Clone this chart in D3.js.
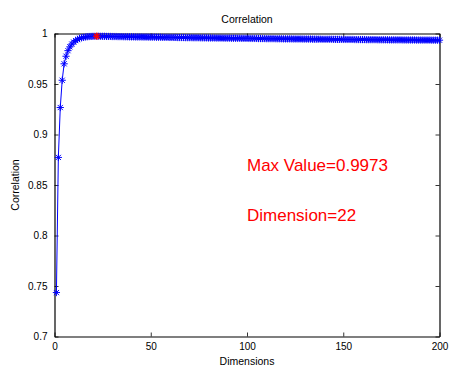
<!DOCTYPE html>
<html>
<head>
<meta charset="utf-8">
<script src="https://cdn.jsdelivr.net/npm/d3@7"></script>
<style>
  body { margin: 0; background: #fff; }
  svg { display: block; font-family: "Liberation Sans", Arial, sans-serif; }
</style>
</head>
<body>
<svg id="chart"></svg>
<script>
// correlation per number of dimensions (1..200)
const correlation = [
    0.7435, 0.8773, 0.9267, 0.9537, 0.9700, 0.9775, 0.9830, 0.9868, 0.9895, 0.9915,
    0.9930, 0.9942, 0.9951, 0.9957, 0.9962, 0.9965, 0.9968, 0.9970, 0.9971, 0.9972,
    0.9972, 0.9973,
    0.9973, 0.9972, 0.9972, 0.9972, 0.9971, 0.9971, 0.9971, 0.9970, 0.9970, 0.9970,
    0.9969, 0.9969, 0.9969, 0.9968, 0.9968, 0.9968, 0.9967, 0.9967,
    0.9967, 0.9966, 0.9966, 0.9966, 0.9966, 0.9965, 0.9965, 0.9965, 0.9964, 0.9964,
    0.9964, 0.9964, 0.9963, 0.9963, 0.9963, 0.9962, 0.9962, 0.9962, 0.9962, 0.9961,
    0.9961, 0.9961, 0.9961, 0.9960, 0.9960, 0.9960, 0.9960, 0.9959, 0.9959, 0.9959,
    0.9959, 0.9958, 0.9958, 0.9958, 0.9958, 0.9957, 0.9957, 0.9957, 0.9957, 0.9956,
    0.9956, 0.9956, 0.9956, 0.9955, 0.9955, 0.9955, 0.9955, 0.9954, 0.9954, 0.9954,
    0.9954, 0.9953, 0.9953, 0.9953, 0.9953, 0.9953, 0.9952, 0.9952, 0.9952, 0.9952,
    0.9951, 0.9951, 0.9951, 0.9951, 0.9951, 0.9950, 0.9950, 0.9950, 0.9950, 0.9949,
    0.9949, 0.9949, 0.9949, 0.9949, 0.9948, 0.9948, 0.9948, 0.9948, 0.9947, 0.9947,
    0.9947, 0.9947, 0.9947, 0.9946, 0.9946, 0.9946, 0.9946, 0.9946, 0.9945, 0.9945,
    0.9945, 0.9945, 0.9945, 0.9944, 0.9944, 0.9944, 0.9944, 0.9944, 0.9943, 0.9943,
    0.9943, 0.9943, 0.9943, 0.9943, 0.9942, 0.9942, 0.9942, 0.9942, 0.9942, 0.9941,
    0.9941, 0.9941, 0.9941, 0.9941, 0.9941, 0.9940, 0.9940, 0.9940, 0.9940, 0.9940,
    0.9940, 0.9939, 0.9939, 0.9939, 0.9939, 0.9939, 0.9939, 0.9938, 0.9938, 0.9938,
    0.9938, 0.9938, 0.9938, 0.9937, 0.9937, 0.9937, 0.9937, 0.9937, 0.9937, 0.9937,
    0.9936, 0.9936, 0.9936, 0.9936, 0.9936, 0.9936, 0.9936, 0.9935, 0.9935, 0.9935,
    0.9935, 0.9935, 0.9935, 0.9935, 0.9935, 0.9934, 0.9934, 0.9934, 0.9934, 0.9934
];
const xTicks = [0, 50, 100, 150, 200];
const yTicks = [0.7, 0.75, 0.8, 0.85, 0.9, 0.95, 1];
const maxDimension = 22;
const maxValue = 0.9973;
const labels = [`Max Value=${maxValue}`, `Dimension=${maxDimension}`];

const width = 451, height = 371;
const margin = { top: 33.5, right: 11.5, bottom: 34.5, left: 54.5 };

const data = correlation.map((v, i) => ({ dim: i + 1, value: v }));

const x = d3.scaleLinear().domain([0, 200]).range([margin.left, width - margin.right]);
const y = d3.scaleLinear().domain([0.7, 1]).range([height - margin.bottom, margin.top]);

const svg = d3.select("#chart")
    .attr("width", width)
    .attr("height", height);

// box axes, ticks pointing inwards like matlab
const tickLen = 4;
svg.append("g")
    .attr("transform", `translate(0,${y(0.7)})`)
    .call(d3.axisBottom(x).tickValues(xTicks).tickSizeInner(-tickLen).tickSizeOuter(0).tickPadding(6).tickFormat(d3.format("d")));
svg.append("g")
    .attr("transform", `translate(0,${y(1)})`)
    .call(d3.axisTop(x).tickValues(xTicks).tickSizeInner(-tickLen).tickSizeOuter(0).tickFormat(""));
svg.append("g")
    .attr("transform", `translate(${x(0)},0)`)
    .call(d3.axisLeft(y).tickValues(yTicks).tickSizeInner(-tickLen).tickSizeOuter(0).tickPadding(7).tickFormat(d => String(+d.toFixed(2))));
svg.append("g")
    .attr("transform", `translate(${x(200)},0)`)
    .call(d3.axisRight(y).tickValues(yTicks).tickSizeInner(-tickLen).tickSizeOuter(0).tickFormat(""));

svg.selectAll(".domain").attr("stroke", "#000").attr("stroke-width", 1.2);
svg.selectAll(".tick line").attr("stroke", "#000").attr("stroke-width", 0.8);
svg.selectAll(".tick text").attr("font-size", 10).attr("fill", "#000").attr("font-family", "Liberation Sans, Arial, sans-serif");

// line
const line = d3.line().x(d => x(d.dim)).y(d => y(d.value));
svg.append("path")
    .datum(data)
    .attr("fill", "none")
    .attr("stroke", "#0000ff")
    .attr("stroke-width", 1)
    .attr("d", line);

// '*' markers
const r = 3.6, r2 = r * 0.72;
const star = `M${-r},0L${r},0M0,${-r}L0,${r}M${-r2},${-r2}L${r2},${r2}M${-r2},${r2}L${r2},${-r2}`;
svg.append("g")
    .selectAll("path")
    .data(data)
    .join("path")
    .attr("transform", d => `translate(${x(d.dim)},${y(d.value)})`)
    .attr("d", star)
    .attr("fill", "none")
    .attr("stroke", d => d.dim === maxDimension ? "#ff0000" : "#0000ff")
    .attr("stroke-width", 1);

// draw the max point on top so it stays visible
svg.append("path")
    .datum(data[maxDimension - 1])
    .attr("transform", d => `translate(${x(d.dim)},${y(d.value)})`)
    .attr("d", star)
    .attr("fill", "none")
    .attr("stroke", "#ff0000")
    .attr("stroke-width", 1.2);

// titles
svg.append("text")
    .attr("x", (x(0) + x(200)) / 2)
    .attr("y", 23)
    .attr("text-anchor", "middle")
    .attr("font-size", 10.5)
    .text("Correlation");

svg.append("text")
    .attr("x", (x(0) + x(200)) / 2)
    .attr("y", 365)
    .attr("text-anchor", "middle")
    .attr("font-size", 10.5)
    .text("Dimensions");

svg.append("text")
    .attr("transform", `translate(19,${(y(0.7) + y(1)) / 2}) rotate(-90)`)
    .attr("text-anchor", "middle")
    .attr("font-size", 10.5)
    .text("Correlation");

// annotation
svg.append("g")
    .selectAll("text")
    .data(labels)
    .join("text")
    .attr("x", x(100))
    .attr("y", (d, i) => y(0.87 - i * 0.05))
    .attr("dy", "0.35em")
    .attr("font-size", 17)
    .attr("fill", "#ff0000")
    .text(d => d);
</script>
</body>
</html>
